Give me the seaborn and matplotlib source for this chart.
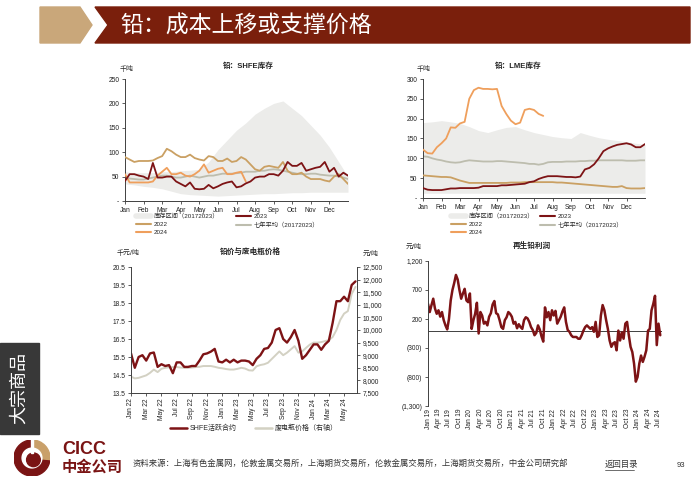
import numpy as np
import pandas as pd
import matplotlib.pyplot as plt
import matplotlib.patches as mpatches
from matplotlib.lines import Line2D
import seaborn as sns

sns.set_theme(style='white')
plt.rcParams['font.family'] = ['Liberation Sans', 'Noto Sans CJK SC']
plt.rcParams['axes.unicode_minus'] = False

# ---------------- data ----------------
months = ['Jan', 'Feb', 'Mar', 'Apr', 'May', 'Jun', 'Jul', 'Aug', 'Sep', 'Oct', 'Nov', 'Dec']

# SHFE inventory, kt, quarter-month steps
shfe_2023 = [41, 55, 55, 52, 50, 45, 78, 48, 48, 50, 50, 40, 35, 30, 38, 25,
             24, 25, 33, 26, 30, 35, 38, 40, 28, 30, 36, 40, 48, 50, 50, 55,
             55, 52, 62, 80, 72, 72, 78, 62, 65, 68, 70, 80, 60, 68, 50, 58, 52]
shfe_2022 = [90, 85, 80, 82, 82, 82, 83, 88, 92, 107, 102, 95, 90, 90, 95, 88,
             85, 83, 92, 90, 82, 82, 87, 80, 82, 90, 85, 75, 65, 62, 70, 72,
             70, 68, 80, 62, 55, 55, 58, 50, 45, 45, 45, 42, 40, 50, 55, 45, 35]
shfe_2024 = [55, 38, 38, 38, 38, 38, 40, 52, 60, 68, 55, 55, 58, 52, 50, 55,
             62, 75, 58, 62, 66, 68, 55, 55, 58, 60, 40]
shfe_avg = [48, 46, 45, 44, 44, 46, 48, 50, 52, 52, 50, 48, 48, 50, 52, 50,
            48, 50, 52, 52, 54, 56, 56, 56, 57, 58, 60, 60, 60, 62, 62, 64,
            65, 64, 62, 60, 58, 56, 55, 55, 56, 56, 54, 53, 52, 52, 50, 48, 45]
# range band, half-month steps
shfe_hi = [60, 58, 58, 58, 60, 60, 62, 63, 65, 80, 105, 125, 145, 160, 178, 190,
           200, 205, 190, 175, 155, 135, 110, 80, 50]
shfe_lo = [35, 33, 30, 28, 25, 20, 15, 13, 12, 11, 10, 11, 12, 13, 14, 15,
           15, 16, 17, 17, 18, 18, 18, 18, 18]

# LME inventory, kt
lme_2023 = [25, 21, 20, 20, 20, 22, 24, 24, 25, 25, 25, 25, 26, 30, 30, 30,
            30, 32, 32, 33, 34, 35, 36, 40, 42, 48, 52, 55, 55, 55, 54, 53,
            53, 52, 54, 72, 76, 85, 100, 118, 125, 130, 134, 136, 138, 135, 128, 128, 136]
lme_2022 = [57, 56, 55, 54, 53, 53, 52, 48, 44, 41, 38, 38, 38, 38, 38, 38,
            38, 38, 38, 39, 39, 39, 40, 40, 40, 40, 40, 40, 40, 39, 39, 38,
            37, 36, 35, 34, 33, 32, 31, 30, 29, 28, 28, 30, 25, 24, 24, 24, 25]
lme_2024 = [122, 113, 112, 128, 138, 150, 178, 177, 188, 192, 250, 272, 278, 275,
            275, 274, 275, 232, 212, 195, 186, 190, 222, 225, 222, 212, 207]
lme_avg = [105, 104, 100, 97, 95, 92, 90, 89, 90, 93, 95, 94, 93, 92, 92, 92,
           93, 93, 92, 91, 90, 89, 88, 86, 86, 84, 86, 90, 91, 91, 91, 92,
           92, 92, 93, 93, 94, 94, 95, 95, 95, 95, 95, 95, 94, 94, 94, 95, 95]
lme_hi = [190, 192, 195, 192, 188, 180, 170, 165, 172, 178, 180, 172, 165, 160,
          155, 152, 150, 165, 158, 152, 148, 145, 142, 138, 135]
lme_lo = [12, 12, 12, 12, 12, 12, 12, 12, 12, 12, 12, 12, 12, 12,
          12, 12, 12, 12, 12, 12, 12, 12, 12, 12, 12]

# lead price (kyuan/t) and scrap battery price (yuan/t), half-month steps from Jan 22
shfe_price = [15.7, 14.9, 15.5, 15.6, 15.3, 15.7, 15.75, 14.95, 15.1, 15.0,
              15.05, 14.6, 15.2, 15.2, 14.95, 14.95, 15.0, 15.0, 15.3, 15.65,
              15.7, 15.8, 15.95, 15.25, 15.2, 15.35, 15.2, 15.35, 15.2, 15.3,
              15.3, 15.25, 15.05, 15.4, 15.6, 15.95, 16.0, 16.3, 17.0, 17.1,
              16.5, 16.3, 16.6, 17.0, 16.4, 15.4, 15.6, 15.9, 16.2, 16.2,
              15.9, 16.2, 16.4, 17.4, 18.6, 18.6, 18.85, 18.6, 19.5, 19.7]
scrap_price = [8150, 8080, 8100, 8150, 8200, 8300, 8430, 8330, 8460, 8500,
               8520, 8530, 8530, 8510, 8500, 8500, 8510, 8530, 8540, 8570,
               8570, 8570, 8540, 8500, 8480, 8450, 8430, 8430, 8460, 8500,
               8470, 8400, 8390, 8560, 8610, 8640, 8700, 8850, 9000, 9150,
               9000, 9100, 9230, 9360, 9100, 9150, 9290, 9420, 9500, 9500,
               9520, 9560, 9600, 9720, 10000, 10400, 10650, 10750, 11430, 11710]
price_ticks = ['Jan 22', 'Mar 22', 'May 22', 'Jul 22', 'Sep 22', 'Nov 22', 'Jan 23', 'Mar 23',
               'May 23', 'Jul 23', 'Sep 23', 'Nov 23', 'Jan 24', 'Mar 24', 'May 24']

# secondary lead profit (yuan/t), half-month steps from Jan 19
profit = [460, 320, 440, 550, 380, 290, 350, 240, 320, 180, 90, 20, 200, 520, 700, 820,
          960, 880, 700, 550, 640, 720, 520, 490, 640, 30, 180, 290, 480, -50, 320, 260,
          120, 150, 90, 240, 300, 450, 510, 300, 280, 180, 60, 30, 180, 230, 320, 290,
          240, 120, 150, 40, 110, 60, 30, 180, 230, 210, 150, 60, 10, -80, -40, 90,
          20, -100, -190, 400, 230, 320, 180, 350, 260, 340, 120, 180, 240, 330, 400, 150,
          10, -20, -80, -110, -110, -110, -140, -140, -80, 0, 60, 90, 60, 30, 60, -20,
          150, -110, -80, 260, 440, 350, 180, 30, -170, -280, -220, -200, -340, 0, -170, -30,
          -140, 120, 150, -80, -280, -370, -570, -880, -800, -570, -430, -540, -450, -340, 0, 30,
          350, 460, 600, -250, 120, -80]
profit_ticks = ['Jan 19', 'Apr 19', 'Jul 19', 'Oct 19', 'Jan 20', 'Apr 20', 'Jul 20', 'Oct 20',
                'Jan 21', 'Apr 21', 'Jul 21', 'Oct 21', 'Jan 22', 'Apr 22', 'Jul 22', 'Oct 22',
                'Jan 23', 'Apr 23', 'Jul 23', 'Oct 23', 'Jan 24', 'Apr 24', 'Jul 24']

# ---------------- colours ----------------
RED = '#7d1315'
C2022 = '#caa063'
C2024 = '#ef9f5c'
AVG = '#bdbdae'
BAND = '#ececea'
SCRAP = '#d3d1c3'
AXC = '#404040'

W, H = 700, 490
fig = plt.figure(figsize=(7, 4.9), dpi=100)


def fx(x):
    return x / W


def fy(y):
    return 1 - y / H


def box(l, t, r, b):
    return [fx(l), fy(b), fx(r) - fx(l), fy(t) - fy(b)]


def style(ax):
    for s in ['top', 'right']:
        ax.spines[s].set_visible(False)
    for s in ['left', 'bottom']:
        ax.spines[s].set_color(AXC)
        ax.spines[s].set_linewidth(0.7)
    ax.tick_params(axis='both', labelsize=4.8, length=2, width=0.6, color=AXC,
                   pad=2, labelcolor='#222222', bottom=True, left=True)
    ax.grid(False)


# ---------------- header ----------------
fig.patches.append(mpatches.Polygon([[fx(40), fy(7)], [fx(80), fy(7)], [fx(92), fy(25)],
                                     [fx(80), fy(43)], [fx(40), fy(43)]],
                                    closed=True, transform=fig.transFigure, color='#c9a77a'))
fig.patches.append(mpatches.Polygon([[fx(95), fy(7)], [fx(690), fy(7)], [fx(690), fy(43)],
                                     [fx(95), fy(43)], [fx(108), fy(25)]],
                                    closed=True, transform=fig.transFigure, color='#7a1f0c'))
fig.text(fx(120), fy(26), '铅：成本上移或支撑价格', color='white', fontsize=16.5,
         va='center', ha='left', fontweight='medium')

# ---------------- inventory charts ----------------
def inventory(ax, hi, lo, avg, y22, y23, y24, ymax):
    xb = np.arange(len(hi)) * 0.5
    ax.fill_between(xb, lo, hi, color=BAND, lw=0, zorder=1)
    xq = np.arange(49) * 0.25
    sns.lineplot(x=xq, y=avg, ax=ax, color=AVG, lw=1.3, zorder=2)
    sns.lineplot(x=xq, y=y22, ax=ax, color=C2022, lw=1.3, zorder=3)
    sns.lineplot(x=np.arange(len(y24)) * 0.25, y=y24, ax=ax, color=C2024, lw=1.3, zorder=4)
    sns.lineplot(x=xq, y=y23, ax=ax, color=RED, lw=1.3, zorder=5)
    ax.set_xlim(0, 12)
    ax.set_ylim(0, ymax)
    ax.set_xticks(range(12))
    ax.set_xticklabels(months)
    yt = list(range(0, ymax + 1, 50))
    ax.set_yticks(yt)
    ax.set_yticklabels(['-'] + [str(v) for v in yt[1:]])
    ax.set_xlabel('')
    ax.set_ylabel('')
    style(ax)


def inv_legend(ax, x, y, colsp):
    handles = [Line2D([], [], color=BAND, lw=4), Line2D([], [], color=C2022, lw=1.5),
               Line2D([], [], color=C2024, lw=1.5), Line2D([], [], color=RED, lw=1.5),
               Line2D([], [], color=AVG, lw=1.5)]
    labels = ['库存区间（20172023）', '2022', '2024', '2023', '七年平均（20172023）']
    ax.legend(handles, labels, loc='upper left', bbox_to_anchor=(fx(x), fy(y)),
              bbox_transform=fig.transFigure, ncol=2, frameon=False, fontsize=4.5,
              handlelength=2.4, handletextpad=0.5, columnspacing=colsp, labelspacing=0.4,
              borderaxespad=0, borderpad=0)


ax1 = fig.add_axes(box(125, 79, 348, 201))
inventory(ax1, shfe_hi, shfe_lo, shfe_avg, shfe_2022, shfe_2023, shfe_2024, 250)
inv_legend(ax1, 136, 213, 2.6)
fig.text(fx(248), fy(66), '铅：SHFE库存', fontsize=5.5, fontweight='bold', ha='center', va='center')
fig.text(fx(120), fy(70), '千吨', fontsize=5, ha='left', va='center')

ax2 = fig.add_axes(box(423, 79, 645, 198))
inventory(ax2, lme_hi, lme_lo, lme_avg, lme_2022, lme_2023, lme_2024, 300)
inv_legend(ax2, 451, 213, 0.8)
fig.text(fx(518), fy(66), '铅：LME库存', fontsize=5.5, fontweight='bold', ha='center', va='center')
fig.text(fx(417), fy(70), '千吨', fontsize=5, ha='left', va='center')

# ---------------- price chart ----------------
ax3 = fig.add_axes(box(131, 267, 357, 393))
ax3r = ax3.twinx()
xp = np.arange(len(shfe_price)) * 0.5
sns.lineplot(x=xp, y=scrap_price, ax=ax3r, color=SCRAP, lw=1.4)
sns.lineplot(x=xp, y=shfe_price, ax=ax3, color=RED, lw=1.7)
ax3.set_zorder(ax3r.get_zorder() + 1)
ax3.patch.set_visible(False)
ax3.set_xlim(0, 29.7)
ax3.set_ylim(13.5, 20.5)
ax3.set_yticks(np.arange(13.5, 20.6, 1.0))
ax3.set_yticklabels([f'{v:.1f}' for v in np.arange(13.5, 20.6, 1.0)])
ax3.set_xticks(np.arange(len(price_ticks)) * 2)
ax3.set_xticklabels(price_ticks, rotation=90)
ax3r.set_ylim(7500, 12500)
ax3r.set_yticks(range(7500, 12501, 500))
ax3r.set_yticklabels([f'{v:,}' for v in range(7500, 12501, 500)])
for a in (ax3, ax3r):
    a.set_xlabel('')
    a.set_ylabel('')
style(ax3)
ax3r.grid(False)
for s in ['top', 'left', 'bottom']:
    ax3r.spines[s].set_visible(False)
ax3r.spines['right'].set_color(AXC)
ax3r.spines['right'].set_linewidth(0.7)
ax3r.tick_params(axis='y', labelsize=4.8, length=2, width=0.6, color=AXC, pad=2,
                 right=True, labelcolor='#222222')
ax3.legend([Line2D([], [], color=RED, lw=1.8), Line2D([], [], color=SCRAP, lw=1.8)],
           ['SHFE活跃合约', '废电瓶价格（右轴）'], loc='upper center',
           bbox_to_anchor=(fx(254), fy(425)), bbox_transform=fig.transFigure, ncol=2,
           frameon=False, fontsize=5, handlelength=2.4, handletextpad=0.5, columnspacing=2.6,
           borderaxespad=0, borderpad=0)
fig.text(fx(250), fy(252), '铅价与废电瓶价格', fontsize=5.5, fontweight='bold', ha='center', va='center')
fig.text(fx(117), fy(253), '千元/吨', fontsize=5, ha='left', va='center')
fig.text(fx(363), fy(254), '元/吨', fontsize=5, ha='left', va='center')

# ---------------- profit chart ----------------
ax4 = fig.add_axes(box(428, 261, 662, 406))
xr = np.arange(len(profit)) * 0.5
ax4.axhline(0, color=AXC, lw=0.7, zorder=1)
sns.lineplot(x=xr, y=profit, ax=ax4, color=RED, lw=1.8, zorder=2)
ax4.set_xlim(0, 67)
ax4.set_ylim(-1300, 1200)
yt4 = [-1300, -800, -300, 200, 700, 1200]
ax4.set_yticks(yt4)
ax4.set_yticklabels(['(1,300)', '(800)', '(300)', '200', '700', '1,200'])
ax4.set_xticks(np.arange(len(profit_ticks)) * 3)
ax4.set_xticklabels(profit_ticks, rotation=90)
ax4.set_xlabel('')
ax4.set_ylabel('')
style(ax4)
ax4.spines['bottom'].set_visible(False)
ax4.tick_params(axis='x', length=0)
fig.text(fx(532), fy(246), '再生铅利润', fontsize=5.5, fontweight='bold', ha='center', va='center')
fig.text(fx(406), fy(247), '元/吨', fontsize=5, ha='left', va='center')

# ---------------- side tab, logo, footer ----------------
fig.patches.append(mpatches.Rectangle((0, fy(434)), fx(39), fy(343) - fy(434),
                                      transform=fig.transFigure, color='#383838'))
fig.text(fx(19.5), fy(388), '大宗商品', color='white', fontsize=13, rotation=90,
         ha='center', va='center')

axl = fig.add_axes(box(14, 440, 50, 476))
axl.set_xlim(-1, 1)
axl.set_ylim(-1, 1)
axl.axis('off')
axl.add_patch(mpatches.Wedge((0, 0), 1, 90, 360, color='#7a1414'))
axl.add_patch(mpatches.Wedge((0, 0), 1, -5, 90, color='#c9a06a'))
axl.add_patch(mpatches.Circle((0, 0), 0.55, color='white'))
axl.add_patch(mpatches.Circle((0.08, -0.1), 0.38, color='#7a1414'))
axl.add_patch(mpatches.Rectangle((-0.04, 0.3), 0.1, 0.75, color='white'))

fig.text(fx(62), fy(449), 'CICC', color='#7a1414', fontsize=13, fontweight='bold',
         ha='left', va='center')
fig.text(fx(62), fy(467), '中金公司', color='#7a1414', fontsize=11, fontweight='bold',
         ha='left', va='center')
fig.text(fx(133), fy(464),
         '资料来源：上海有色金属网，伦敦金属交易所，上海期货交易所，伦敦金属交易所，上海期货交易所，中金公司研究部',
         fontsize=6, color='#333333', ha='left', va='center')
fig.text(fx(605), fy(465), '返回目录', fontsize=6, color='#333333', ha='left', va='center')
fig.add_artist(Line2D([fx(605), fx(634)], [fy(470), fy(470)], color='#333333', lw=0.5,
                      transform=fig.transFigure))
fig.text(fx(677), fy(465), '93', fontsize=5.5, color='#333333', ha='left', va='center')

fig.savefig('out.png', dpi=100)
